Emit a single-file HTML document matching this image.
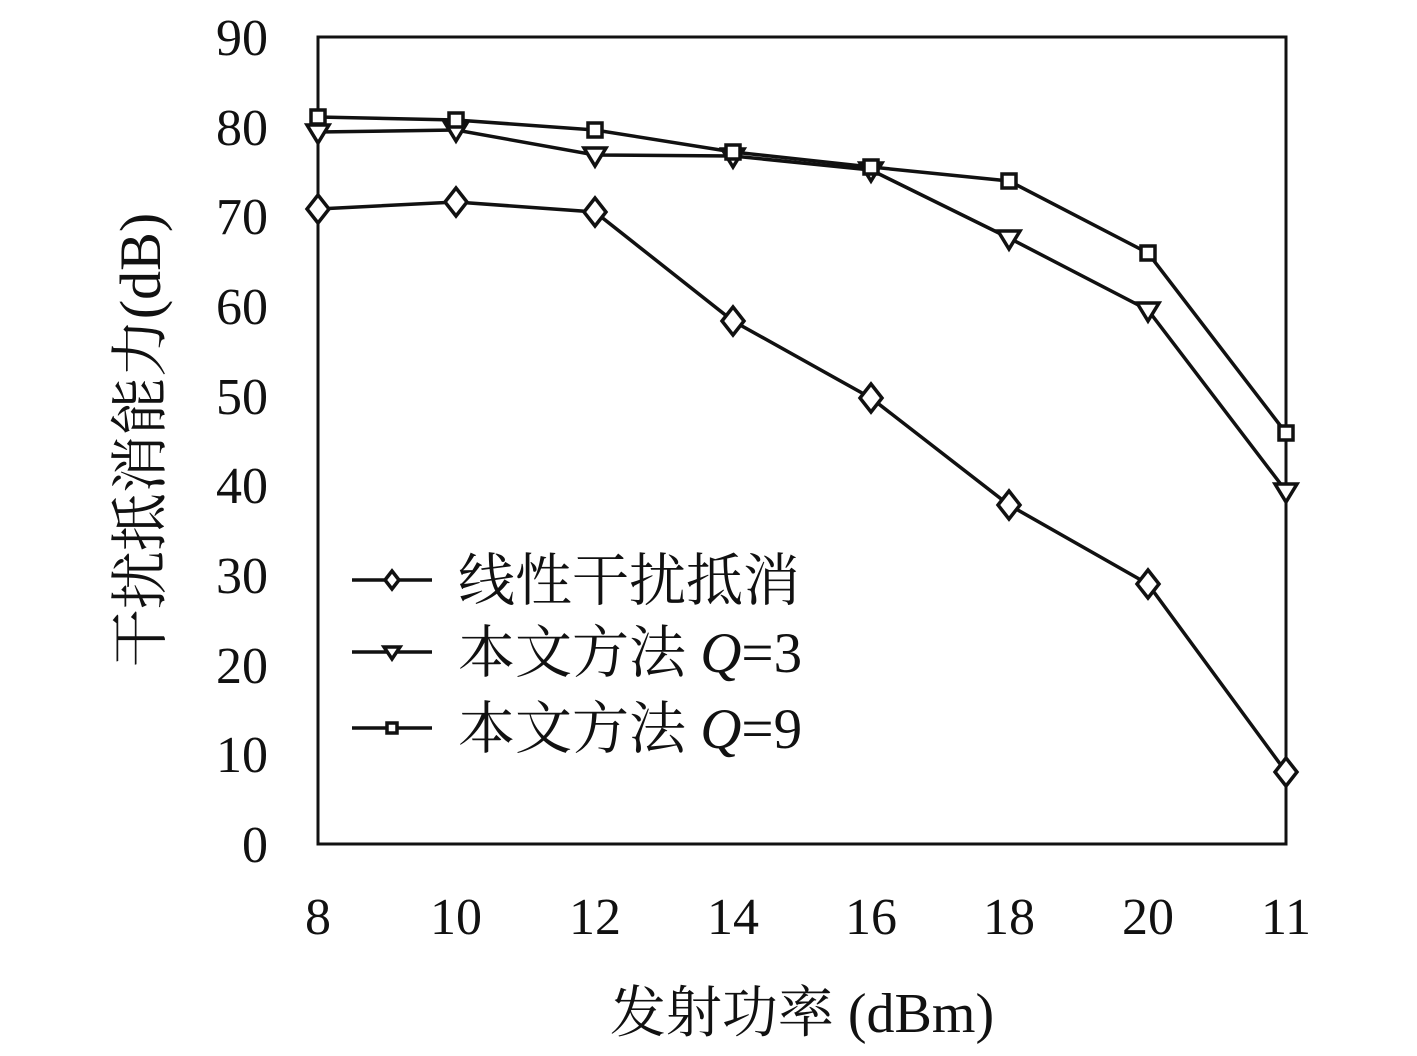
<!DOCTYPE html>
<html><head><meta charset="utf-8"><style>html,body{margin:0;padding:0;background:#fff;}</style></head>
<body>
<svg width="1417" height="1051" viewBox="0 0 1417 1051" xmlns="http://www.w3.org/2000/svg" font-family="'Liberation Serif','Noto Serif CJK SC',serif">
<rect width="1417" height="1051" fill="#fff"/>
<rect x="318" y="37" width="968" height="807" fill="none" stroke="#111" stroke-width="3"/>
<g font-size="52" text-anchor="end" fill="#111">
<text x="268" y="55">90</text><text x="268" y="145">80</text><text x="268" y="234">70</text>
<text x="268" y="324">60</text><text x="268" y="414">50</text><text x="268" y="503">40</text>
<text x="268" y="593">30</text><text x="268" y="683">20</text><text x="268" y="772">10</text>
<text x="268" y="862">0</text>
</g>
<g font-size="52" text-anchor="middle" fill="#111">
<text x="318" y="934">8</text><text x="456" y="934">10</text><text x="595" y="934">12</text>
<text x="733" y="934">14</text><text x="871" y="934">16</text><text x="1009" y="934">18</text>
<text x="1148" y="934">20</text><text x="1286" y="934">11</text>
</g>
<text x="802" y="1032" font-size="56" text-anchor="middle" fill="#111">发射功率 (dBm)</text>
<text transform="translate(160,440) rotate(-90)" font-size="58" text-anchor="middle" fill="#111">干扰抵消能力(dB)</text>
<g fill="none" stroke="#111" stroke-width="3.5">
<polyline points="318,209 456,202 595,212 733,321 871,398 1009,505 1148,584 1286,772"/>
<polyline points="318,132 456,130 595,155 733,156 871,170 1009,238 1148,310 1286,491"/>
<polyline points="318,117 456,120 595,130 733,152 871,167 1009,181 1148,253 1286,433"/>
</g>
<g fill="#fff" stroke="#111" stroke-width="3.5">
<path d="M318,195 L329,209 L318,223 L307,209Z"/><path d="M456,188 L467,202 L456,216 L445,202Z"/>
<path d="M595,198 L606,212 L595,226 L584,212Z"/><path d="M733,307 L744,321 L733,335 L722,321Z"/>
<path d="M871,384 L882,398 L871,412 L860,398Z"/><path d="M1009,491 L1020,505 L1009,519 L998,505Z"/>
<path d="M1148,570 L1159,584 L1148,598 L1137,584Z"/><path d="M1286,758 L1297,772 L1286,786 L1275,772Z"/>
<path d="M307,125 L329,125 L318,143Z"/><path d="M445,123 L467,123 L456,141Z"/>
<path d="M584,148 L606,148 L595,166Z"/><path d="M722,149 L744,149 L733,167Z"/>
<path d="M860,163 L882,163 L871,181Z"/><path d="M998,231 L1020,231 L1009,249Z"/>
<path d="M1137,303 L1159,303 L1148,321Z"/><path d="M1275,484 L1297,484 L1286,502Z"/>
<rect x="311" y="110" width="14" height="14"/><rect x="449" y="113" width="14" height="14"/>
<rect x="588" y="123" width="14" height="14"/><rect x="726" y="145" width="14" height="14"/>
<rect x="864" y="160" width="14" height="14"/><rect x="1002" y="174" width="14" height="14"/>
<rect x="1141" y="246" width="14" height="14"/><rect x="1279" y="426" width="14" height="14"/>
</g>
<g stroke="#111" stroke-width="3.5" fill="#fff">
<line x1="352" y1="580" x2="432" y2="580"/><path d="M392,571 L399,580 L392,589 L385,580Z"/>
<line x1="352" y1="652" x2="432" y2="652"/><path d="M384,647 L400,647 L392,659Z"/>
<line x1="352" y1="728" x2="432" y2="728"/><rect x="387" y="723" width="10" height="10"/>
</g>
<g font-size="57" fill="#111">
<text x="458" y="600">线性干扰抵消</text>
<text x="458" y="672">本文方法 <tspan font-style="italic">Q</tspan>=3</text>
<text x="458" y="748">本文方法 <tspan font-style="italic">Q</tspan>=9</text>
</g>
</svg>
</body></html>
